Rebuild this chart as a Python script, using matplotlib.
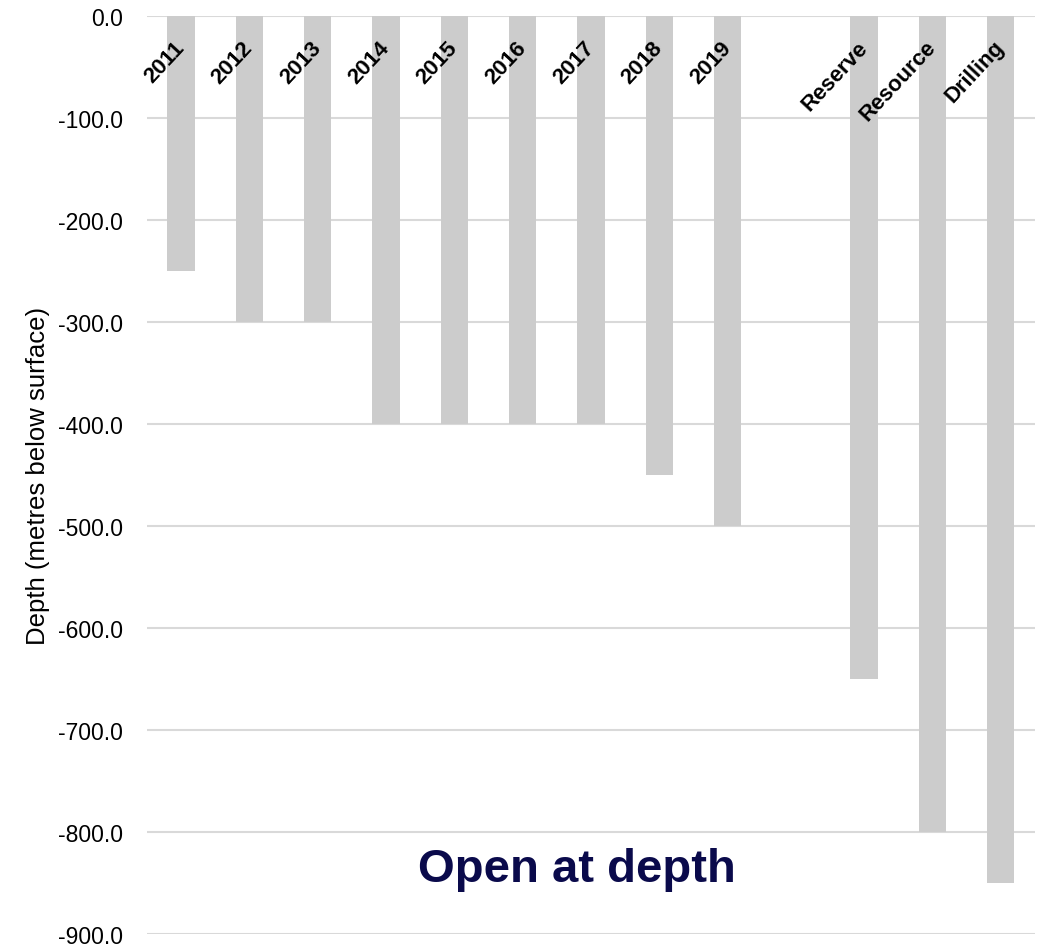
import matplotlib
matplotlib.use("Agg")
import matplotlib.pyplot as plt
import numpy as np

plt.rcParams['font.family'] = ['Liberation Sans', 'DejaVu Sans']

categories = ["2011", "2012", "2013", "2014", "2015", "2016", "2017", "2018", "2019",
              "", "Reserve", "Resource", "Drilling"]
depths = [-250, -300, -300, -400, -400, -400, -400, -450, -500,
          np.nan, -650, -800, -850]
yticks = [0, -100, -200, -300, -400, -500, -600, -700, -800, -900]

fig = plt.figure(figsize=(10.38, 9.45), dpi=100)
ax = fig.add_axes([0.1416, 0.0106, 0.8554, 0.9714])

x = np.arange(len(categories))
ax.bar(x, depths, width=0.4, color="#CCCCCC", zorder=2)

ax.set_xlim(-0.5, len(categories) - 0.5)
ax.set_ylim(-900, 0)
ax.set_yticks(yticks)
ax.set_yticklabels([f"{v:.1f}" for v in yticks], fontsize=16.5)
ax.set_xticks([])
ax.tick_params(axis="y", length=0, pad=17)
ax.grid(axis="y", color="#D9D9D9", linewidth=1.5, zorder=0)
for s in ax.spines.values():
    s.set_visible(False)

for xi, name in zip(x, categories):
    if name:
        ax.text(xi + 0.0, -27, name, rotation=47, rotation_mode="anchor",
                ha="right", va="center", fontsize=16, fontweight="bold", zorder=3)

ax.set_ylabel("Depth (metres below surface)", fontsize=18.5, labelpad=6)

ax.text(5.8, -836, "Open at depth", ha="center", va="center",
        fontsize=34, fontweight="bold", color="#0A0A4B")

fig.savefig("out.png", dpi=100)
